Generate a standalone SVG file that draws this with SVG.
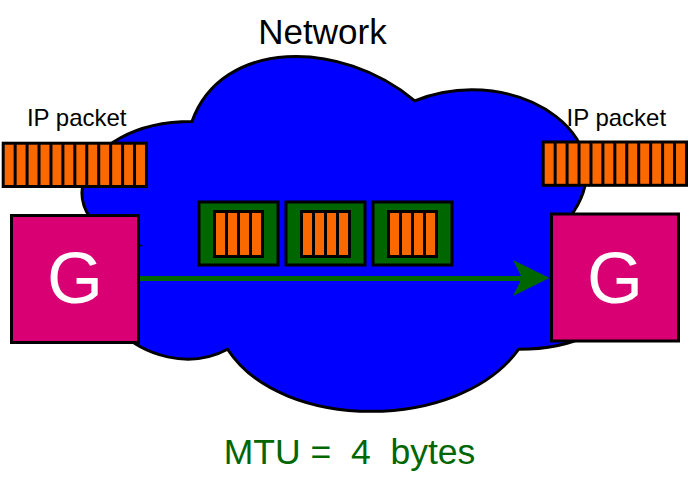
<svg xmlns="http://www.w3.org/2000/svg" width="690" height="480" viewBox="0 0 690 480">
<style>
text{font-family:"Liberation Sans",Arial,sans-serif;text-anchor:middle}
.lbl{font-size:24px;fill:#000}
.g{font-size:72px;fill:#fff}
.cell{fill:#fa6800}
.frame{fill:#000}
.gbox{fill:#d80073;stroke:#000;stroke-width:3}
.gpk{fill:#006600;stroke:#000;stroke-width:3}
</style>
<defs>
<g id="pkt12">
<rect class="frame" x="0" y="0" width="146.3" height="46.3"/>
<rect class="cell" x="3" y="3" width="8.94" height="40.3"/>
<rect class="cell" x="14.94" y="3" width="8.94" height="40.3"/>
<rect class="cell" x="26.88" y="3" width="8.94" height="40.3"/>
<rect class="cell" x="38.82" y="3" width="8.94" height="40.3"/>
<rect class="cell" x="50.76" y="3" width="8.94" height="40.3"/>
<rect class="cell" x="62.7" y="3" width="8.94" height="40.3"/>
<rect class="cell" x="74.64" y="3" width="8.94" height="40.3"/>
<rect class="cell" x="86.58" y="3" width="8.94" height="40.3"/>
<rect class="cell" x="98.52" y="3" width="8.94" height="40.3"/>
<rect class="cell" x="110.46" y="3" width="8.94" height="40.3"/>
<rect class="cell" x="122.4" y="3" width="8.94" height="40.3"/>
<rect class="cell" x="134.34" y="3" width="8.94" height="40.3"/>
</g>
<g id="frag">
<rect class="gpk" x="0" y="0" width="79" height="63"/>
<rect class="frame" x="14" y="8" width="51" height="48"/>
<rect class="cell" x="17" y="11" width="9" height="42"/>
<rect class="cell" x="29" y="11" width="9" height="42"/>
<rect class="cell" x="41" y="11" width="9" height="42"/>
<rect class="cell" x="53" y="11" width="9" height="42"/>
</g>
</defs>
<rect width="690" height="480" fill="#fff"/>
<g id="network">
<path d="M192,121.5 C73.2,121.5 43.5,225 138.5,245.7 C43.5,291.2 150.4,390.6 227.6,349.2 C281.1,432 459.3,432 518.7,349.2 C637.5,349.2 637.5,266.4 563.25,225 C637.5,142.2 518.7,59.4 414.75,100.8 C340.5,38.7 221.7,38.7 192,121.5 Z" fill="#0000ff" stroke="#000" stroke-width="3"/>
<text x="322.5" y="43.5" style="font-size:35px">Network</text>
</g>
<g id="fragments">
<use href="#frag" x="199" y="202"/>
<use href="#frag" x="286" y="202"/>
<use href="#frag" x="373" y="202"/>
</g>
<g id="connectors">
<line x1="140" y1="278.5" x2="523" y2="278.5" stroke="#006600" stroke-width="5"/>
<polygon points="549.5,278 513,260 522,278 513,296" fill="#006600"/>
</g>
<g id="packet-left">
<text class="lbl" x="76.7" y="126">IP packet</text>
<use href="#pkt12" x="1.7" y="141.7"/>
</g>
<g id="packet-right">
<text class="lbl" x="616.3" y="126">IP packet</text>
<use href="#pkt12" x="541.7" y="140.5"/>
</g>
<g id="gateway-left">
<rect class="gbox" x="11.5" y="215.5" width="127" height="127"/>
<text class="g" x="75" y="303">G</text>
</g>
<g id="gateway-right">
<rect class="gbox" x="551.5" y="214" width="127" height="127"/>
<text class="g" x="615" y="303">G</text>
</g>
<g id="mtu">
<text x="349.5" y="464" xml:space="preserve" style="font-size:35.5px;fill:#006600;white-space:pre">MTU =  4  bytes</text>
</g>
</svg>
